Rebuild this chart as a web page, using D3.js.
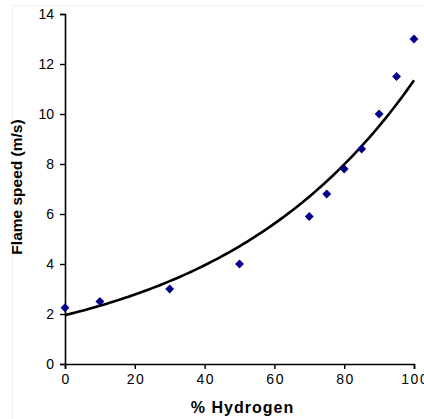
<!DOCTYPE html>
<html>
<head>
<meta charset="utf-8">
<script src="https://cdn.jsdelivr.net/npm/d3@7"></script>
<style>
html,body{margin:0;padding:0;background:#fff;overflow:hidden;}
svg{display:block;}
</style>
</head>
<body>
<svg id="chart" width="424" height="419"></svg>
<script>
const hydrogen = [0, 10, 30, 50, 70, 75, 80, 85, 90, 95, 100];
const flameSpeed = [2.25, 2.5, 3.0, 4.0, 5.9, 6.8, 7.8, 8.6, 10.0, 11.5, 13.0];
const xTicks = [0, 20, 40, 60, 80, 100];
const yTicks = [0, 2, 4, 6, 8, 10, 12, 14];
const xTitle = "% Hydrogen";
const yTitle = "Flame speed (m/s)";

const svg = d3.select("#chart");
const x = d3.scaleLinear().domain([0, 100]).range([65, 414]);
const y = d3.scaleLinear().domain([0, 14]).range([364, 14]);

// faint frame
svg.append("rect").attr("x", 12.5).attr("y", 5.5).attr("width", 430).attr("height", 430)
  .attr("fill", "none").attr("stroke", "#f0f0f0").attr("stroke-width", 1);

const font = "'Liberation Sans', Arial, sans-serif";

const xAxis = svg.append("g").attr("transform", `translate(0,${y(0)})`)
  .call(d3.axisBottom(x).tickValues(xTicks).tickSizeOuter(0).tickSize(5).tickPadding(5));
const yAxis = svg.append("g").attr("transform", `translate(${x(0)},0)`)
  .call(d3.axisLeft(y).tickValues(yTicks).tickSizeOuter(0).tickSize(5).tickPadding(6));

[xAxis, yAxis].forEach(g => {
  g.select(".domain").attr("stroke", "#000").attr("stroke-width", 1.6);
  g.selectAll(".tick line").attr("stroke", "#000").attr("stroke-width", 1.4);
  g.selectAll(".tick text").attr("fill", "#000").style("font-family", font).style("font-size", "14px");
});
xAxis.selectAll(".tick text").style("letter-spacing", "1.5px").attr("dx", "0.75");

// exponential trendline (least squares on ln y)
const lnY = flameSpeed.map(Math.log);
const mx = d3.mean(hydrogen), my = d3.mean(lnY);
const b = d3.sum(hydrogen, (d, i) => (d - mx) * (lnY[i] - my)) / d3.sum(hydrogen, d => (d - mx) ** 2);
const a = Math.exp(my - b * mx);
const fitX = d3.range(0, 100.001, 1);
svg.append("path")
  .datum(fitX)
  .attr("fill", "none").attr("stroke", "#000").attr("stroke-width", 2.6)
  .attr("d", d3.line().x(d => x(d)).y(d => y(a * Math.exp(b * d))));

// points
svg.append("g").selectAll("path").data(hydrogen).join("path")
  .attr("d", d3.symbol().type(d3.symbolDiamond2).size(50))
  .attr("transform", (d, i) => `translate(${x(d)},${y(flameSpeed[i])})`)
  .attr("fill", "#00008b");

svg.append("text").attr("x", 242.5).attr("y", 413).attr("text-anchor", "middle")
  .style("font-family", font).style("font-size", "16px").style("font-weight", "bold")
  .style("letter-spacing", "1px").text(xTitle);
svg.append("text").attr("transform", "translate(22,187) rotate(-90)").attr("text-anchor", "middle")
  .style("font-family", font).style("font-size", "15.5px").style("font-weight", "bold").text(yTitle);
</script>
</body>
</html>
